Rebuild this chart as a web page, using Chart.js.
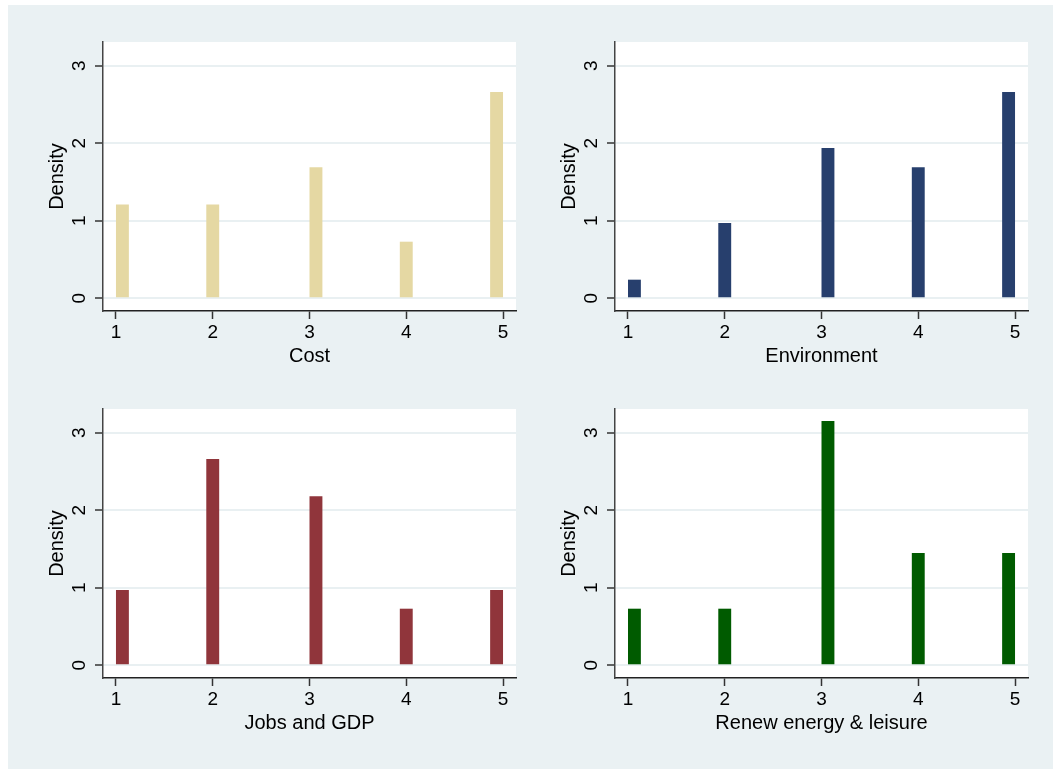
<!DOCTYPE html>
<html>
<head>
<meta charset="utf-8">
<script src="https://cdn.jsdelivr.net/npm/chart.js@4/dist/chart.umd.min.js"></script>
<style>
    body { margin: 0; background: #ffffff; }
    #stage { position: relative; width: 1053px; height: 769px; overflow: hidden; }
    #bg { position: absolute; left: 8px; top: 5px; width: 1045px; height: 764px; background: #eaf1f3; }
    canvas { position: absolute; }
</style>
</head>
<body>
<div id="stage">
    <div id="bg"></div>
    <canvas id="c0" width="521" height="380" style="left:8px;top:5px"></canvas>
    <canvas id="c1" width="521" height="380" style="left:520px;top:5px"></canvas>
    <canvas id="c2" width="521" height="380" style="left:8px;top:372px"></canvas>
    <canvas id="c3" width="521" height="380" style="left:520px;top:372px"></canvas>
</div>
<script>
// Histogramas (densidade) - 4 variáveis, escala 1 a 5
const BIN_CENTERS = [1.0667, 2.0, 3.0667, 4.0, 4.9333];
const BIN_WIDTH = 0.1333;
const X_TICKS = [1, 2, 3, 4, 5];
const Y_TICKS = [0, 1, 2, 3];
const Y_TITLE = 'Density';

const COST = [1.21, 1.21, 1.69, 0.73, 2.66];
const ENVIRONMENT = [0.24, 0.97, 1.94, 1.69, 2.66];
const JOBS_GDP = [0.97, 2.66, 2.18, 0.73, 0.97];
const RENEW = [0.73, 0.73, 3.15, 1.45, 1.45];

const TITLES = ['Cost', 'Environment', 'Jobs and GDP', 'Renew energy & leisure'];
const SERIES = [COST, ENVIRONMENT, JOBS_GDP, RENEW];
const COLORS = ['#e5d8a3', '#273f6d', '#90353b', '#005b00'];

const FONT = '"Liberation Sans", Arial, Helvetica, sans-serif';

// menor distância entre centros -> largura relativa das barras
let minGap = Infinity;
for (let i = 1; i < BIN_CENTERS.length; i++) {
    minGap = Math.min(minGap, BIN_CENTERS[i] - BIN_CENTERS[i - 1]);
}

const plotBg = {
    id: 'plotBg',
    beforeDraw(chart) {
        const { ctx, chartArea: a } = chart;
        ctx.save();
        ctx.fillStyle = '#ffffff';
        ctx.fillRect(a.left, a.top, a.right - a.left, a.bottom - a.top);
        ctx.restore();
    }
};

function makeChart(id, title, values, color) {
    return new Chart(document.getElementById(id), {
        type: 'bar',
        data: {
            datasets: [{
                data: BIN_CENTERS.map((x, i) => ({ x: x, y: values[i] })),
                backgroundColor: color,
                borderWidth: 0,
                barPercentage: BIN_WIDTH / minGap,
                categoryPercentage: 1
            }]
        },
        options: {
            responsive: false,
            animation: false,
            layout: { padding: { top: 37, right: 13, left: 0, bottom: 0 } },
            plugins: { legend: { display: false }, tooltip: { enabled: false } },
            scales: {
                x: {
                    type: 'linear',
                    min: 0.866,
                    max: 5.134,
                    offset: false,
                    afterBuildTicks: s => { s.ticks = X_TICKS.map(v => ({ value: v })); },
                    afterFit: s => { s.height = 74; },
                    grid: { offset: false, drawOnChartArea: false, tickLength: 8, tickColor: '#333', tickWidth: 1.5 },
                    border: { color: '#222', width: 1.5 },
                    ticks: { color: '#000', padding: 2, font: { family: FONT, size: 19 } },
                    title: { display: true, text: title, color: '#000', padding: { top: 0, bottom: 17 }, font: { family: FONT, size: 20 } }
                },
                y: {
                    min: -0.164,
                    max: 3.306,
                    afterBuildTicks: s => { s.ticks = Y_TICKS.map(v => ({ value: v })); },
                    afterFit: s => { s.width = 95; },
                    grid: { color: '#e9f0f2', lineWidth: 2, tickLength: 8, tickColor: '#333', tickWidth: 1.5 },
                    border: { color: '#444', width: 1.5 },
                    ticks: { color: '#000', padding: 10, minRotation: 90, maxRotation: 90, crossAlign: 'center', font: { family: FONT, size: 19 } },
                    title: { display: true, text: Y_TITLE, color: '#000', padding: { top: 37, bottom: 0 }, font: { family: FONT, size: 20 } }
                }
            }
        },
        plugins: [plotBg]
    });
}

TITLES.forEach((t, i) => makeChart('c' + i, t, SERIES[i], COLORS[i]));
</script>
</body>
</html>
